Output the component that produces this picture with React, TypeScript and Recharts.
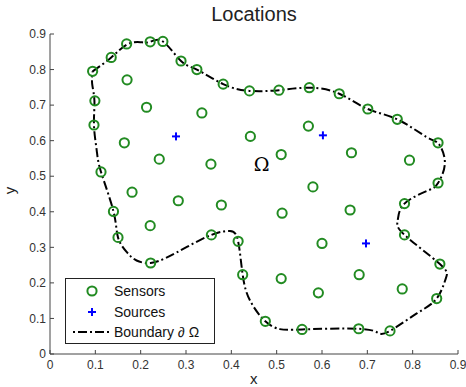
import React from 'react';
import { ScatterChart, Scatter, XAxis, YAxis } from 'recharts';

const xTicks = [0, 0.1, 0.2, 0.3, 0.4, 0.5, 0.6, 0.7, 0.8, 0.9];
const yTicks = [0, 0.1, 0.2, 0.3, 0.4, 0.5, 0.6, 0.7, 0.8, 0.9];

const boundarySensors = [
  { x: 0.094, y: 0.795 }, { x: 0.135, y: 0.834 }, { x: 0.169, y: 0.872 }, { x: 0.221, y: 0.878 },
  { x: 0.249, y: 0.879 }, { x: 0.289, y: 0.824 }, { x: 0.324, y: 0.800 }, { x: 0.382, y: 0.759 },
  { x: 0.440, y: 0.740 }, { x: 0.505, y: 0.742 }, { x: 0.572, y: 0.749 }, { x: 0.638, y: 0.732 },
  { x: 0.701, y: 0.689 }, { x: 0.766, y: 0.660 }, { x: 0.856, y: 0.594 }, { x: 0.856, y: 0.481 },
  { x: 0.782, y: 0.423 }, { x: 0.782, y: 0.335 }, { x: 0.860, y: 0.253 }, { x: 0.853, y: 0.156 },
  { x: 0.750, y: 0.065 }, { x: 0.681, y: 0.071 }, { x: 0.556, y: 0.069 }, { x: 0.475, y: 0.092 },
  { x: 0.425, y: 0.223 }, { x: 0.415, y: 0.317 }, { x: 0.356, y: 0.335 }, { x: 0.222, y: 0.256 },
  { x: 0.150, y: 0.328 }, { x: 0.140, y: 0.401 }, { x: 0.1125, y: 0.512 }, { x: 0.097, y: 0.644 },
  { x: 0.099, y: 0.712 },
];

const interiorSensors = [
  { x: 0.170, y: 0.771 }, { x: 0.213, y: 0.694 }, { x: 0.335, y: 0.678 }, { x: 0.164, y: 0.594 },
  { x: 0.241, y: 0.548 }, { x: 0.355, y: 0.534 }, { x: 0.181, y: 0.455 }, { x: 0.283, y: 0.431 },
  { x: 0.378, y: 0.419 }, { x: 0.221, y: 0.361 }, { x: 0.442, y: 0.612 }, { x: 0.570, y: 0.641 },
  { x: 0.510, y: 0.561 }, { x: 0.665, y: 0.566 }, { x: 0.793, y: 0.545 }, { x: 0.580, y: 0.470 },
  { x: 0.512, y: 0.396 }, { x: 0.662, y: 0.405 }, { x: 0.600, y: 0.311 }, { x: 0.682, y: 0.223 },
  { x: 0.510, y: 0.212 }, { x: 0.592, y: 0.172 }, { x: 0.777, y: 0.183 },
];

const sources = [
  { x: 0.278, y: 0.612 }, { x: 0.602, y: 0.615 }, { x: 0.697, y: 0.311 },
];

const boundary = [
  { x: 0.094, y: 0.795 }, { x: 0.135, y: 0.834 }, { x: 0.169, y: 0.870 }, { x: 0.199, y: 0.877 },
  { x: 0.221, y: 0.878 }, { x: 0.249, y: 0.879 }, { x: 0.289, y: 0.824 }, { x: 0.324, y: 0.800 },
  { x: 0.382, y: 0.759 }, { x: 0.440, y: 0.740 }, { x: 0.505, y: 0.742 }, { x: 0.572, y: 0.749 },
  { x: 0.638, y: 0.732 }, { x: 0.701, y: 0.689 }, { x: 0.766, y: 0.660 }, { x: 0.831, y: 0.610 },
  { x: 0.858, y: 0.590 }, { x: 0.871, y: 0.536 }, { x: 0.856, y: 0.481 }, { x: 0.834, y: 0.460 },
  { x: 0.782, y: 0.423 }, { x: 0.767, y: 0.376 }, { x: 0.782, y: 0.335 }, { x: 0.860, y: 0.253 },
  { x: 0.873, y: 0.212 }, { x: 0.853, y: 0.156 }, { x: 0.809, y: 0.114 }, { x: 0.750, y: 0.065 },
  { x: 0.724, y: 0.059 }, { x: 0.681, y: 0.071 }, { x: 0.556, y: 0.069 }, { x: 0.507, y: 0.070 },
  { x: 0.475, y: 0.092 }, { x: 0.441, y: 0.151 }, { x: 0.425, y: 0.223 }, { x: 0.415, y: 0.317 },
  { x: 0.397, y: 0.346 }, { x: 0.356, y: 0.335 }, { x: 0.302, y: 0.301 }, { x: 0.257, y: 0.271 },
  { x: 0.222, y: 0.256 }, { x: 0.191, y: 0.263 }, { x: 0.169, y: 0.287 }, { x: 0.150, y: 0.328 },
  { x: 0.140, y: 0.401 }, { x: 0.1125, y: 0.512 }, { x: 0.103, y: 0.573 }, { x: 0.097, y: 0.644 },
  { x: 0.098, y: 0.712 }, { x: 0.093, y: 0.760 }, { x: 0.094, y: 0.795 },
];

const omegaLabel = [{ x: 0.467, y: 0.535, text: 'Ω' }];

const legendItems = [
  { label: 'Sensors', kind: 'sensor' },
  { label: 'Sources', kind: 'source' },
  { label: 'Boundary ∂ Ω', kind: 'line' },
];

const GREEN = '#228b22';
const BLUE = '#0000ff';
const FONT = '"Liberation Sans", Arial, Helvetica, sans-serif';
const DASH = '9 3 2 3';

const SensorShape = (p: any) => (
  <circle cx={p.cx} cy={p.cy} r={4.6} fill="none" stroke={GREEN} strokeWidth={2} />
);
const SourceShape = (p: any) => (
  <g stroke={BLUE} strokeWidth={2}>
    <line x1={p.cx - 4} x2={p.cx + 4} y1={p.cy} y2={p.cy} />
    <line x1={p.cx} x2={p.cx} y1={p.cy - 4} y2={p.cy + 4} />
  </g>
);
const NoShape = () => <g />;
const OmegaShape = (p: any) => (
  <text x={p.cx} y={p.cy} textAnchor="middle" dominantBaseline="central" fontSize={19}
    fontFamily='"DejaVu Serif", "Liberation Serif", serif' fill="#000">{p.payload.text}</text>
);

const LegendBox = () => (
  <div style={{ position: 'absolute', left: 65, top: 278, border: '1.5px solid #222', background: '#fff', width: 150, height: 66, boxSizing: 'border-box', fontFamily: FONT, fontSize: 14, color: '#111', paddingTop: 2 }}>
    {legendItems.map((it) => (
      <div key={it.label} style={{ display: 'flex', alignItems: 'center', height: 20.5 }}>
        <svg width={48} height={20} style={{ flex: 'none' }}>
          {it.kind === 'sensor' && <circle cx={26} cy={10} r={4.6} fill="none" stroke={GREEN} strokeWidth={2} />}
          {it.kind === 'source' && (
            <g stroke={BLUE} strokeWidth={2}>
              <line x1={22} x2={30} y1={10} y2={10} />
              <line x1={26} x2={26} y1={6} y2={14} />
            </g>
          )}
          {it.kind === 'line' && <line x1={7} x2={45} y1={10} y2={10} stroke="#000" strokeWidth={2} strokeDasharray="2 3 9 3" />}
        </svg>
        <span>{it.label}</span>
      </div>
    ))}
  </div>
);

export default function App() {
  return (
    <div style={{ position: 'absolute', left: 0, top: 0, width: 466, height: 387, background: '#fff', fontFamily: FONT }}>
      <div style={{ position: 'absolute', left: 0, width: 508, top: 3, textAlign: 'center', fontSize: 20, color: '#222' }}>Locations</div>
      <div style={{ position: 'absolute', left: 250, top: 371, fontSize: 15, color: '#222', lineHeight: '15px' }}>x</div>
      <div style={{ position: 'absolute', left: 6, top: 182, fontSize: 15, color: '#222', transform: 'rotate(-90deg)' }}>y</div>
      <ScatterChart width={466} height={387} margin={{ top: 34, right: 8, bottom: 0, left: 0 }}>
        <XAxis type="number" dataKey="x" domain={[0, 0.9]} ticks={xTicks} interval={0}
          height={33} tickSize={-4} tickMargin={10} allowDataOverflow
          stroke="#444" tick={{ fill: '#333', fontSize: 12, fontFamily: FONT }} />
        <YAxis type="number" dataKey="y" domain={[0, 0.9]} ticks={yTicks} interval={0}
          width={50} tickSize={-4} tickMargin={8} allowDataOverflow
          stroke="#444" tick={{ fill: '#333', fontSize: 12, fontFamily: FONT }} />
        <Scatter data={boundary} isAnimationActive={false} shape={NoShape}
          line={{ stroke: '#000', strokeWidth: 2, strokeDasharray: DASH }} lineJointType="natural" />
        <Scatter data={boundarySensors} isAnimationActive={false} shape={SensorShape} />
        <Scatter data={interiorSensors} isAnimationActive={false} shape={SensorShape} />
        <Scatter data={sources} isAnimationActive={false} shape={SourceShape} />
        <Scatter data={omegaLabel} isAnimationActive={false} shape={OmegaShape} />
      </ScatterChart>
      <LegendBox />
    </div>
  );
}
